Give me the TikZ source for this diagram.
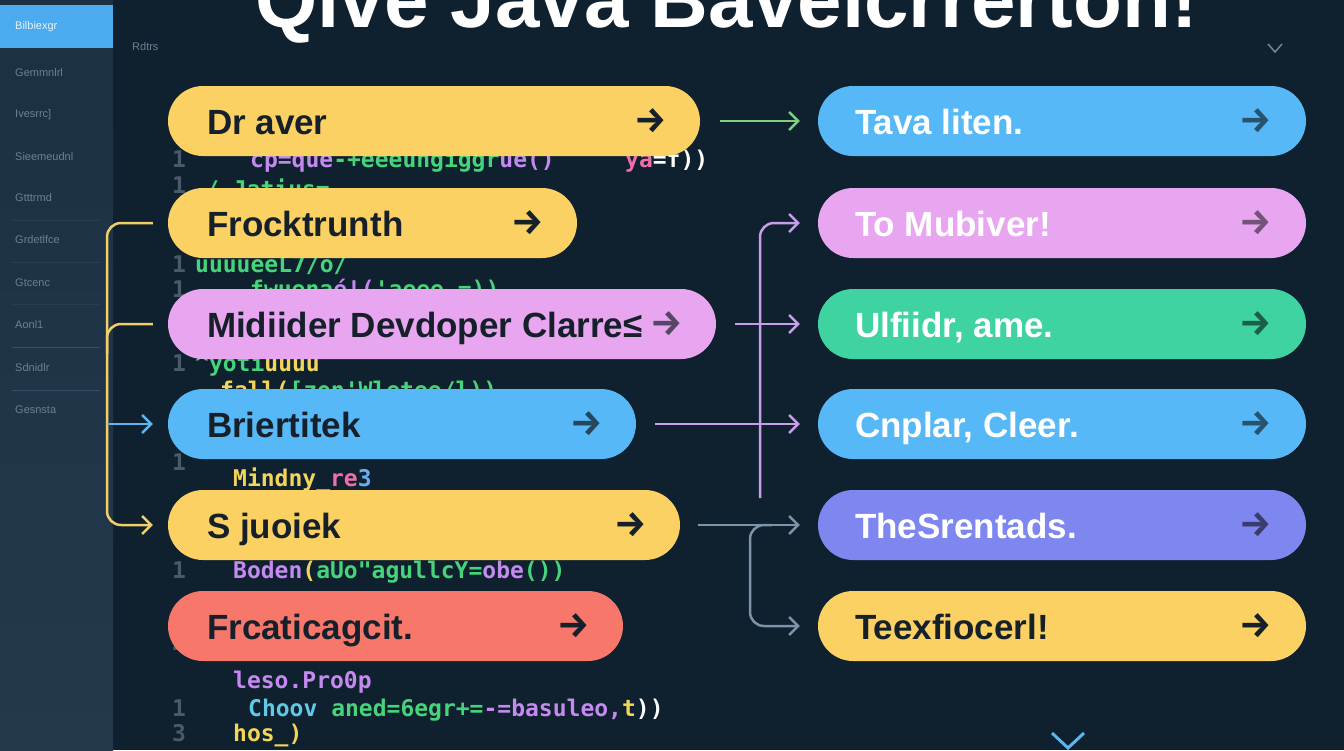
\documentclass[tikz,border=0pt]{standalone}
\usepackage{fontspec}
\setmainfont{Liberation Sans}
\newfontfamily\codefont{DejaVu Sans Mono}
\newfontfamily\arrowfont{Fira Sans}
\usetikzlibrary{calc,arrows.meta}

\definecolor{bgmain}{HTML}{0F202E}
\definecolor{sidetop}{HTML}{1B3043}
\definecolor{sidebot}{HTML}{25394C}
\definecolor{sideblue}{HTML}{4CABEF}
\definecolor{sidegray}{HTML}{6E8093}
\definecolor{sideline}{HTML}{3A4F63}
\definecolor{pyellow}{HTML}{FAD162}
\definecolor{ppink}{HTML}{E8A6F1}
\definecolor{pblue}{HTML}{56B8F6}
\definecolor{pred}{HTML}{F7786B}
\definecolor{pgreen}{HTML}{3ED3A0}
\definecolor{pindigo}{HTML}{7E86F0}
\definecolor{darktext}{HTML}{16202A}
\definecolor{cgreen}{HTML}{7DCF84}
\definecolor{cpurple}{HTML}{C89DEB}
\definecolor{cslate}{HTML}{7C93A8}
\definecolor{cyellow}{HTML}{F1CF6A}
\definecolor{cblue}{HTML}{5CB5EE}
\definecolor{kpurp}{HTML}{C58AF0}
\definecolor{kgrn}{HTML}{45D47A}
\definecolor{kcyan}{HTML}{5FC9E6}
\definecolor{kyel}{HTML}{F2D65A}
\definecolor{kpink}{HTML}{F06FA8}
\definecolor{kblu}{HTML}{6AAEF0}
\definecolor{knum}{HTML}{4A5A68}

\begin{document}
\begin{tikzpicture}[x=1pt,y=-1pt,
		pill/.style={rectangle,rounded corners=35pt,minimum height=70pt,inner sep=0pt},
		pilltext/.style={anchor=base west,inner sep=0pt,font=\bfseries\fontsize{35}{40}\selectfont},
		pillarrow/.style={inner sep=0pt,font=\arrowfont\bfseries\fontsize{36}{40}\selectfont},
		codeline/.style={anchor=base west,inner sep=0pt,font=\codefont\bfseries\fontsize{23}{26}\selectfont},
		lineno/.style={codeline,text=knum},
		sidetext/.style={anchor=west,inner sep=0pt,text=sidegray,font=\fontsize{11}{13}\selectfont},
		wire/.style={line width=2.5pt},
		link/.style={wire,-{Straight Barb[length=9pt,width=18pt]}}
		]
		\useasboundingbox (0,0) rectangle (1344,750);
		\clip (0,0) rectangle (1344,750);
		\fill[bgmain] (0,0) rectangle (1344,750);
		
		% sidebar
		\shade[top color=sidetop,bottom color=sidebot] (0,0) rectangle (113,750);
		\fill[sideblue] (0,5) rectangle (113,48);
		\node[sidetext,text=white!85!sideblue] (s0) at (15,27) {Bilbiexgr};
		\node[sidetext] (s1) at (15,73) {Gemmnlrl};
		\node[sidetext] (s2) at (15,115) {Ivesrrc]};
		\node[sidetext] (s3) at (15,157) {Sieemeudnl};
		\node[sidetext] (s4) at (15,198) {Gtttrmd};
		\node[sidetext] (s5) at (15,240) {Grdetlfce};
		\node[sidetext] (s6) at (15,283) {Gtcenc};
		\node[sidetext] (s7) at (15,325) {Aonl1};
		\node[sidetext] (s8) at (15,368) {Sdnidlr};
		\node[sidetext] (s9) at (15,410) {Gesnsta};
		\foreach \ly in {220,262,304} \draw[sideline!45!sidetop,line width=0.6pt] (12,\ly) -- (100,\ly);
		\foreach \ly in {347,390} \draw[sideline,line width=1pt] (12,\ly) -- (100,\ly);
		
		% title and small marks
		\node[anchor=base west,inner sep=0pt,text=white,font=\bfseries\fontsize{80}{90}\selectfont] (title) at (255,27) {Qive Java Bavelcrrerton!};
		\node[sidetext] (tab) at (132,47) {Rdtrs};
		\draw[sidegray,line width=1.6pt] (1268,44) -- (1275,52) -- (1282,44);
		\draw[cblue,line width=3pt] (1052,733) -- (1068,748) -- (1084,733);
		
		% code behind the pills
		\node[lineno] at (172,167) {1};
		\node[codeline] (c1) at (250,167) {\textcolor{kpurp}{cp=que}\textcolor{kgrn}{-+eeeungiggr}\textcolor{kpurp}{ue()}};
		\node[codeline] (c1b) at (625,167) {\textcolor{kpink}{ya}\textcolor{white}{=f))}};
		\node[lineno] at (172,193) {1};
		\node[codeline] (c2) at (205,197) {\textcolor{kgrn}{/ Jatius=}};
		\node[lineno] at (172,272) {1};
		\node[codeline] (c3) at (195,272) {\textcolor{kgrn}{uuuueeL7/o/}};
		\node[lineno] at (172,297) {1};
		\node[codeline] (c4) at (250,297) {\textcolor{kgrn}{fwuena}\textcolor{kpurp}{é!(}\textcolor{kgrn}{'aeee =))}};
		\node[lineno] at (172,371) {1};
		\node[codeline] (c5) at (195,371) {\textcolor{kgrn}{\textasciicircum yoti}\textcolor{kyel}{uuuu}};
		\node[codeline] (c6) at (220,398) {\textcolor{kyel}{fall(}\textcolor{kgrn}{[zon'Wletee/l))}};
		\node[lineno] at (172,470) {1};
		\node[codeline] (c7) at (233,486) {\textcolor{kyel}{Mindny\_}\textcolor{kpink}{re}\textcolor{kblu}{3}};
		\node[lineno] at (172,578) {1};
		\node[codeline] (c8) at (233,578) {\textcolor{kpurp}{Boden}\textcolor{kyel}{(}\textcolor{kgrn}{aUo"agullcY=}\textcolor{kpurp}{obe}\textcolor{kgrn}{())}};
		\node[lineno] at (172,650) {2};
		\node[codeline] (c9) at (233,688) {\textcolor{kpurp}{leso.Pro0p}};
		\node[lineno] at (172,716) {1};
		\node[codeline] (c10) at (248,716) {\textcolor{kcyan}{Choov\ }\textcolor{kgrn}{aned=6egr+=}\textcolor{kpurp}{-=basuleo,}\textcolor{kyel}{t}\textcolor{white}{))}};
		\node[lineno] at (172,741) {3};
		\node[codeline] (c11) at (233,741) {\textcolor{kyel}{hos\_)}};
		
		% left pills
		\node[pill,fill=pyellow,minimum width=532pt] (draver) at (434,121) {};
		\node[pilltext,text=darktext] at ($(draver.west)+(39,13)$) {Dr aver};
		\node[pillarrow,text=darktext] at ($(draver.east)+(-50,0)$) {→};
		\node[pill,fill=pyellow,minimum width=409pt] (frock) at (372.5,223) {};
		\node[pilltext,text=darktext] at ($(frock.west)+(39,13)$) {Frocktrunth};
		\node[pillarrow,text=darktext] at ($(frock.east)+(-50,0)$) {→};
		\node[pill,fill=ppink,minimum width=548pt] (midi) at (442,324) {};
		\node[pilltext,text=darktext] at ($(midi.west)+(39,13)$) {Midiider Devdoper Clarre≤};
		\node[pillarrow,text=darktext!70!ppink] at ($(midi.east)+(-50,0)$) {→};
		\node[pill,fill=pblue,minimum width=468pt] (brier) at (402,424) {};
		\node[pilltext,text=darktext] at ($(brier.west)+(39,13)$) {Briertitek};
		\node[pillarrow,text=darktext!75!pblue] at ($(brier.east)+(-50,0)$) {→};
		\node[pill,fill=pyellow,minimum width=512pt] (sjuo) at (424,525) {};
		\node[pilltext,text=darktext] at ($(sjuo.west)+(39,13)$) {S juoiek};
		\node[pillarrow,text=darktext] at ($(sjuo.east)+(-50,0)$) {→};
		\node[pill,fill=pred,minimum width=455pt] (frcat) at (395.5,626) {};
		\node[pilltext,text=darktext] at ($(frcat.west)+(39,13)$) {Frcaticagcit.};
		\node[pillarrow,text=darktext] at ($(frcat.east)+(-50,0)$) {→};
		
		% right pills
		\node[pill,fill=pblue,minimum width=488pt] (tava) at (1062,121) {};
		\node[pilltext,text=white] at ($(tava.west)+(37,13)$) {Tava liten.};
		\node[pillarrow,text=pblue!45!black] at ($(tava.east)+(-51,0)$) {→};
		\node[pill,fill=ppink,minimum width=488pt] (tomu) at (1062,223) {};
		\node[pilltext,text=white] at ($(tomu.west)+(37,13)$) {To Mubiver!};
		\node[pillarrow,text=ppink!50!black] at ($(tomu.east)+(-51,0)$) {→};
		\node[pill,fill=pgreen,minimum width=488pt] (ulf) at (1062,324) {};
		\node[pilltext,text=white] at ($(ulf.west)+(37,13)$) {Ulfiidr, ame.};
		\node[pillarrow,text=pgreen!45!black] at ($(ulf.east)+(-51,0)$) {→};
		\node[pill,fill=pblue,minimum width=488pt] (cnp) at (1062,424) {};
		\node[pilltext,text=white] at ($(cnp.west)+(37,13)$) {Cnplar, Cleer.};
		\node[pillarrow,text=pblue!45!black] at ($(cnp.east)+(-51,0)$) {→};
		\node[pill,fill=pindigo,minimum width=488pt] (thes) at (1062,525) {};
		\node[pilltext,text=white] at ($(thes.west)+(37,13)$) {TheSrentads.};
		\node[pillarrow,text=pindigo!45!black] at ($(thes.east)+(-51,0)$) {→};
		\node[pill,fill=pyellow,minimum width=488pt] (teex) at (1062,626) {};
		\node[pilltext,text=darktext] at ($(teex.west)+(37,13)$) {Teexfiocerl!};
		\node[pillarrow,text=darktext] at ($(teex.east)+(-51,0)$) {→};
		
		% left bracket
		\coordinate (lbus) at (107,0);
		\draw[link,cyellow,rounded corners=14pt] ([xshift=-15pt]frock.west) -| (lbus |- sjuo.west) -- ([xshift=-15pt]sjuo.west);
		\draw[wire,cyellow,rounded corners=14pt] ([xshift=-15pt]midi.west) -| ($(lbus |- midi.west)+(0,30)$);
		\draw[link,cblue] (lbus |- brier.west) -- ([xshift=-15pt]brier.west);
		
		% links to the right
		\draw[link,cgreen] ([xshift=20pt]draver.east) -- ([xshift=-18pt]tava.west);
		\draw[link,cpurple] ([xshift=19pt]midi.east) -- ([xshift=-18pt]ulf.west);
		\draw[link,cpurple] ([xshift=19pt]brier.east) -- ([xshift=-18pt]cnp.west);
		\coordinate (pbus) at (760,498);
		\draw[link,cpurple,rounded corners=14pt] (pbus) |- ([xshift=-18pt]tomu.west);
		\draw[link,cslate] ([xshift=18pt]sjuo.east) -- ([xshift=-18pt]thes.west);
		\coordinate (sbus) at (772,525);
		\draw[link,cslate,rounded corners=14pt] (sbus) -| ($(sbus)+(-22,50)$) |- ([xshift=-18pt]teex.west);
	\end{tikzpicture}
\end{document}
